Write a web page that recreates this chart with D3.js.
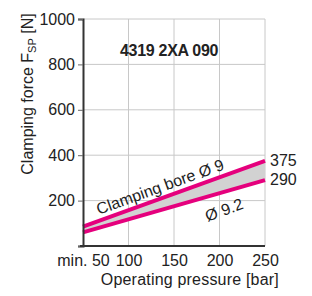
<!DOCTYPE html>
<html>
<head>
<meta charset="utf-8">
<script src="https://cdn.jsdelivr.net/npm/d3@7"></script>
<style>
  body { margin: 0; background: #fff; }
  text { font-family: "Liberation Sans", Arial, sans-serif; fill: #222; }
</style>
</head>
<body>
<svg id="chart" width="312" height="296"></svg>
<script>
// данные
const pressure = [50, 250];
const boreUpper = [85, 375];   // Ø 9
const boreLower = [60, 290];   // Ø 9.2
const xTicks = [50, 100, 150, 200, 250];
const yTicks = [0, 200, 400, 600, 800, 1000];
const title = "4319 2XA 090";

const svg = d3.select("#chart");
const area = { left: 83, right: 265, top: 19, bottom: 246 };

const x = d3.scaleLinear().domain([50, 250]).range([area.left, area.right]);
const y = d3.scaleLinear().domain([0, 1000]).range([area.bottom, area.top]);

// сетка
svg.append("g")
    .selectAll("line")
    .data(xTicks.slice(1))
    .join("line")
    .attr("x1", d => x(d)).attr("x2", d => x(d))
    .attr("y1", area.top).attr("y2", area.bottom)
    .attr("stroke", "#c8c8c8").attr("stroke-width", 1);

svg.append("g")
    .selectAll("line")
    .data(yTicks.slice(1))
    .join("line")
    .attr("x1", area.left).attr("x2", area.right)
    .attr("y1", d => y(d)).attr("y2", d => y(d))
    .attr("stroke", "#c8c8c8").attr("stroke-width", 1);

// область между линиями
const pts = pressure.map((p, i) => ({ p: p, hi: boreUpper[i], lo: boreLower[i] }));
svg.append("path")
    .datum(pts)
    .attr("fill", "#d2d2d2")
    .attr("d", d3.area().x(d => x(d.p)).y0(d => y(d.lo)).y1(d => y(d.hi)));

["hi", "lo"].forEach(k => {
    svg.append("path")
        .datum(pts)
        .attr("fill", "none")
        .attr("stroke", "#e5007d")
        .attr("stroke-width", 4)
        .attr("d", d3.line().x(d => x(d.p)).y(d => y(d[k])));
});

// оси
const axisY = svg.append("g")
    .attr("transform", `translate(${area.left},0)`)
    .call(d3.axisLeft(y).tickValues(yTicks).tickSize(5).tickPadding(3)
        .tickFormat(d => d === 0 ? "" : d));
axisY.select(".domain").attr("stroke", "#333").attr("stroke-width", 2);
axisY.selectAll(".tick line").attr("stroke", "#666");
axisY.selectAll("text").style("font-size", "16px").attr("fill", "#222");

const axisX = svg.append("g")
    .attr("transform", `translate(0,${area.bottom})`)
    .call(d3.axisBottom(x).tickValues(xTicks).tickSize(0).tickPadding(9)
        .tickFormat(d => d === 50 ? "min. 50" : d));
axisX.select(".domain").attr("stroke", "#333").attr("stroke-width", 2)
    .attr("d", `M${area.left - 3},0H${area.right}`);
axisX.selectAll("text").style("font-size", "16px").attr("fill", "#222");

// подписи
svg.append("text")
    .attr("x", 120).attr("y", 56)
    .style("font-size", "16px").style("font-weight", "bold")
    .style("letter-spacing", "-0.3px")
    .attr("fill", "#111")
    .text(title);

svg.append("text")
    .attr("x", 279).attr("y", 285)
    .attr("text-anchor", "end")
    .style("font-size", "16px")
    .style("letter-spacing", "0.2px")
    .text("Operating pressure [bar]");

const yl = svg.append("text")
    .attr("transform", "translate(33,94) rotate(-90)")
    .attr("text-anchor", "middle")
    .style("font-size", "16px");
yl.append("tspan").text("Clamping force F");
yl.append("tspan").attr("dy", 3).style("font-size", "11px").text("SP");
yl.append("tspan").attr("dy", -3).text(" [N]");

const ang = Math.atan2(y(boreUpper[1]) - y(boreUpper[0]), x(250) - x(50)) * 180 / Math.PI;

svg.append("text")
    .attr("transform", `translate(162,192) rotate(${ang})`)
    .attr("text-anchor", "middle")
    .style("font-size", "16px")
    .text("Clamping bore Ø 9");

svg.append("text")
    .attr("transform", `translate(226,215) rotate(${ang})`)
    .attr("text-anchor", "middle")
    .style("font-size", "16px")
    .text("Ø 9.2");

svg.append("text")
    .attr("x", 270).attr("y", y(boreUpper[1]) + 5)
    .style("font-size", "16px")
    .text(boreUpper[1]);
svg.append("text")
    .attr("x", 270).attr("y", y(boreLower[1]) + 5)
    .style("font-size", "16px")
    .text(boreLower[1]);
</script>
</body>
</html>
